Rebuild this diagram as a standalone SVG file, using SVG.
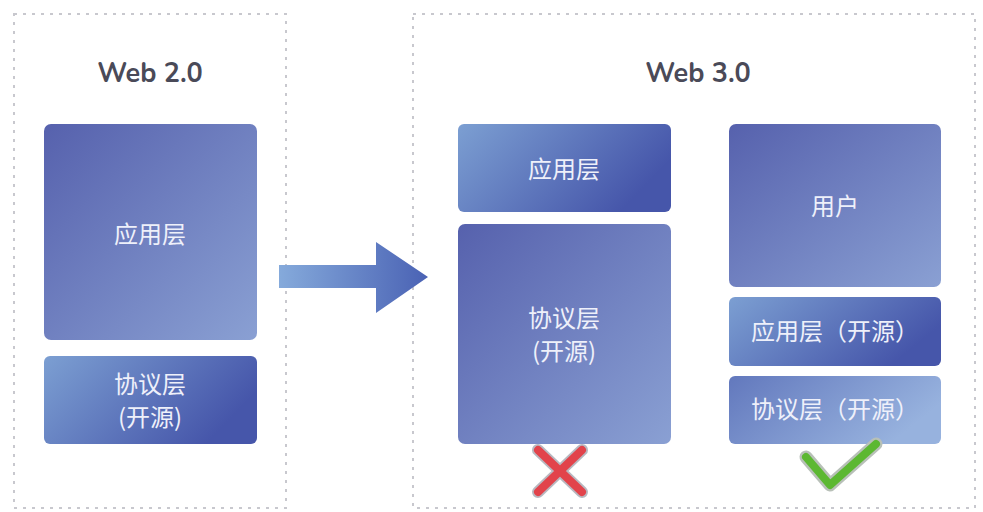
<svg xmlns="http://www.w3.org/2000/svg" width="983" height="512" viewBox="0 0 983 512">
<defs>
<linearGradient id="gDiag" x1="0" y1="0" x2="1" y2="1"><stop offset="0" stop-color="#5661ad"/><stop offset="1" stop-color="#8aa0d3"/></linearGradient>
<linearGradient id="gLR" x1="0" y1="0" x2="1" y2="0.4"><stop offset="0" stop-color="#7c9fd2"/><stop offset="1" stop-color="#4656aa"/></linearGradient>
<linearGradient id="gRL" x1="0" y1="0" x2="1" y2="0.4"><stop offset="0" stop-color="#6278bd"/><stop offset="1" stop-color="#97b2de"/></linearGradient>
<linearGradient id="gArrow" x1="0" y1="0" x2="1" y2="0"><stop offset="0" stop-color="#85aadb"/><stop offset="1" stop-color="#4a62b4"/></linearGradient>
<style>
.frame{fill:none;stroke:#c8c8ce;stroke-width:2;stroke-dasharray:3 6;}
.title{font-family:"Nunito","Lato","Liberation Sans",sans-serif;font-weight:bold;font-size:27px;fill:#4a4a58;text-anchor:middle;}
.lbl{font-family:"Noto Sans CJK SC","Noto Sans",sans-serif;font-size:24px;fill:#eef0fa;text-anchor:middle;}
</style>
</defs>
<rect width="983" height="512" fill="#ffffff"/>
<rect class="frame" x="14" y="14" width="272" height="494"/>
<rect class="frame" x="413" y="14" width="562" height="494"/>
<text class="title" x="150" y="82">Web 2.0</text>
<text class="title" x="698" y="82">Web 3.0</text>

<g id="w2-app"><rect x="44" y="124" width="213" height="216" rx="7" fill="url(#gDiag)"/><text class="lbl" x="150" y="243">应用层</text></g>
<g id="w2-proto"><rect x="44" y="356" width="213" height="88" rx="6" fill="url(#gLR)"/><text class="lbl" x="150" y="393">协议层</text><text class="lbl" x="150" y="426">(开源)</text></g>

<g id="connectors">
<path d="M279 265 H376 V242 L428 277 L376 313 V288 H279 Z" fill="url(#gArrow)"/>
</g>

<g id="w3-app"><rect x="458" y="124" width="213" height="88" rx="6" fill="url(#gLR)"/><text class="lbl" x="564" y="178">应用层</text></g>
<g id="w3-proto"><rect x="458" y="224" width="213" height="220" rx="7" fill="url(#gDiag)"/><text class="lbl" x="564" y="327">协议层</text><text class="lbl" x="564" y="360">(开源)</text></g>
<g id="w3-user"><rect x="729" y="124" width="212" height="163" rx="7" fill="url(#gDiag)"/><text class="lbl" x="835" y="215">用户</text></g>
<g id="w3-app-open"><rect x="729" y="297" width="212" height="69" rx="6" fill="url(#gLR)"/><text class="lbl" x="835" y="340">应用层（开源）</text></g>
<g id="w3-proto-open"><rect x="729" y="376" width="212" height="68" rx="6" fill="url(#gRL)"/><text class="lbl" x="835" y="418">协议层（开源）</text></g>

<g id="cross">
<path d="M538 450 L582 492 M582 450 L538 492" stroke="#b8b8c0" stroke-width="12" stroke-linecap="round" fill="none"/>
<path d="M538 450 L582 492 M582 450 L538 492" stroke="#e2434b" stroke-width="8" stroke-linecap="round" fill="none"/>
</g>
<g id="check">
<path d="M806 457 L830 485 L876 444" stroke="#b8c0b8" stroke-width="13" stroke-linecap="round" stroke-linejoin="round" fill="none"/>
<path d="M806 457 L830 485 L876 444" stroke="#5cb832" stroke-width="8" stroke-linecap="round" stroke-linejoin="round" fill="none"/>
</g>
</svg>
